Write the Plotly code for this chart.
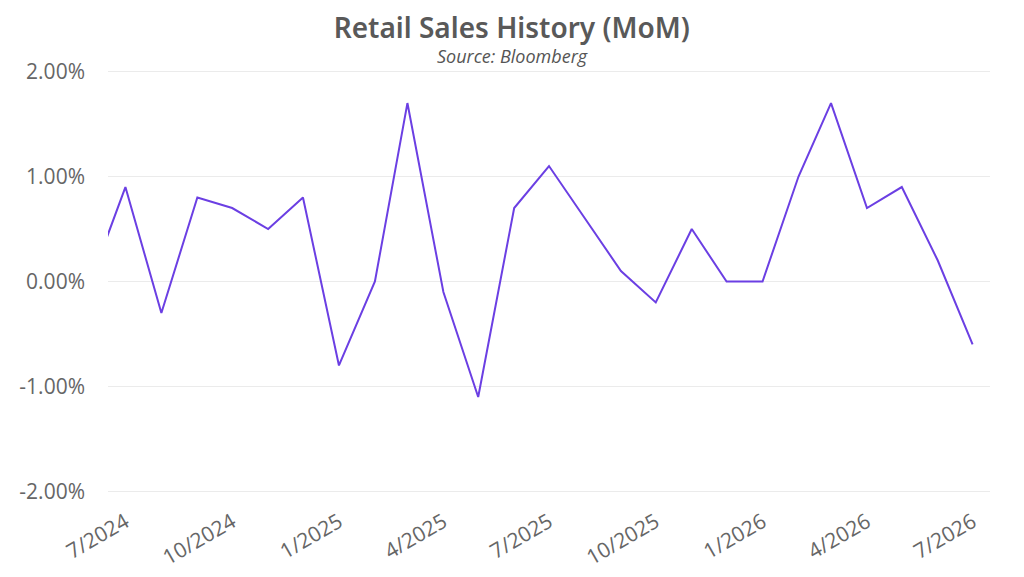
import plotly.graph_objects as go

# monthly retail sales, MoM % change
months = ["2024-06-01", "2024-07-01", "2024-08-01", "2024-09-01", "2024-10-01",
          "2024-11-01", "2024-12-01", "2025-01-01", "2025-02-01", "2025-03-01",
          "2025-04-01", "2025-05-01", "2025-06-01", "2025-07-01", "2025-08-01",
          "2025-09-01", "2025-10-01", "2025-11-01", "2025-12-01", "2026-01-01",
          "2026-02-01", "2026-03-01", "2026-04-01", "2026-05-01", "2026-06-01",
          "2026-07-01"]
mom_pct = [0.0, 0.9, -0.3, 0.8, 0.7,
           0.5, 0.8, -0.8, 0.0, 1.7,
           -0.1, -1.1, 0.7, 1.1, 0.6,
           0.1, -0.2, 0.5, 0.0, 0.0,
           1.0, 1.7, 0.7, 0.9, 0.2,
           -0.6]
mom = [v / 100 for v in mom_pct]

y_ticks = [-0.02, -0.01, 0.0, 0.01, 0.02]
y_tick_labels = ["-2.00%", "-1.00%", "0.00%", "1.00%", "2.00%"]

title_text = "Retail Sales History (MoM)"
subtitle_text = "Source: Bloomberg"

fig = go.Figure(go.Scatter(
    x=months,
    y=mom,
    mode="lines",
    line=dict(color="#6b3fe3", width=2),
    hoverinfo="skip",
))

fig.update_layout(
    width=1024,
    height=577,
    paper_bgcolor="white",
    plot_bgcolor="white",
    margin=dict(l=100, r=42, t=62, b=92),
    showlegend=False,
    font=dict(family="Open Sans, sans-serif", color="#666666"),
    title=dict(
        text=title_text,
        xref="container", yref="container",
        x=0.492, xanchor="center",
        y=0.965, yanchor="middle",
        font=dict(family="Noto Sans, sans-serif", size=28, weight=600,
                  color="#595959"),
    ),
)

# source line under the title
fig.add_annotation(
    text="<i>" + subtitle_text + "</i>",
    xref="paper", yref="paper", x=0.459, y=1, yshift=14,
    xanchor="center", yanchor="middle", showarrow=False,
    font=dict(family="Open Sans, sans-serif", size=18, color="#555555"),
)

fig.update_xaxes(
    type="date",
    range=["2024-06-16", "2026-07-16"],
    tick0="2024-07-01",
    dtick="M3",
    tickformat="%-m/%Y",
    tickangle=-30,
    showgrid=False,
    showline=False,
    zeroline=False,
    ticks="",
    automargin=False,
    ticklabelstandoff=12,
    tickfont=dict(size=21, color="#666666"),
)

fig.update_yaxes(
    range=[-0.02015, 0.02015],
    tickvals=y_ticks,
    ticktext=y_tick_labels,
    showgrid=True,
    gridcolor="#ebebeb",
    gridwidth=1,
    zeroline=False,
    showline=False,
    ticks="",
    automargin=False,
    ticklabelstandoff=22,
    tickfont=dict(size=21, color="#666666"),
)

fig.write_html("out.html")
